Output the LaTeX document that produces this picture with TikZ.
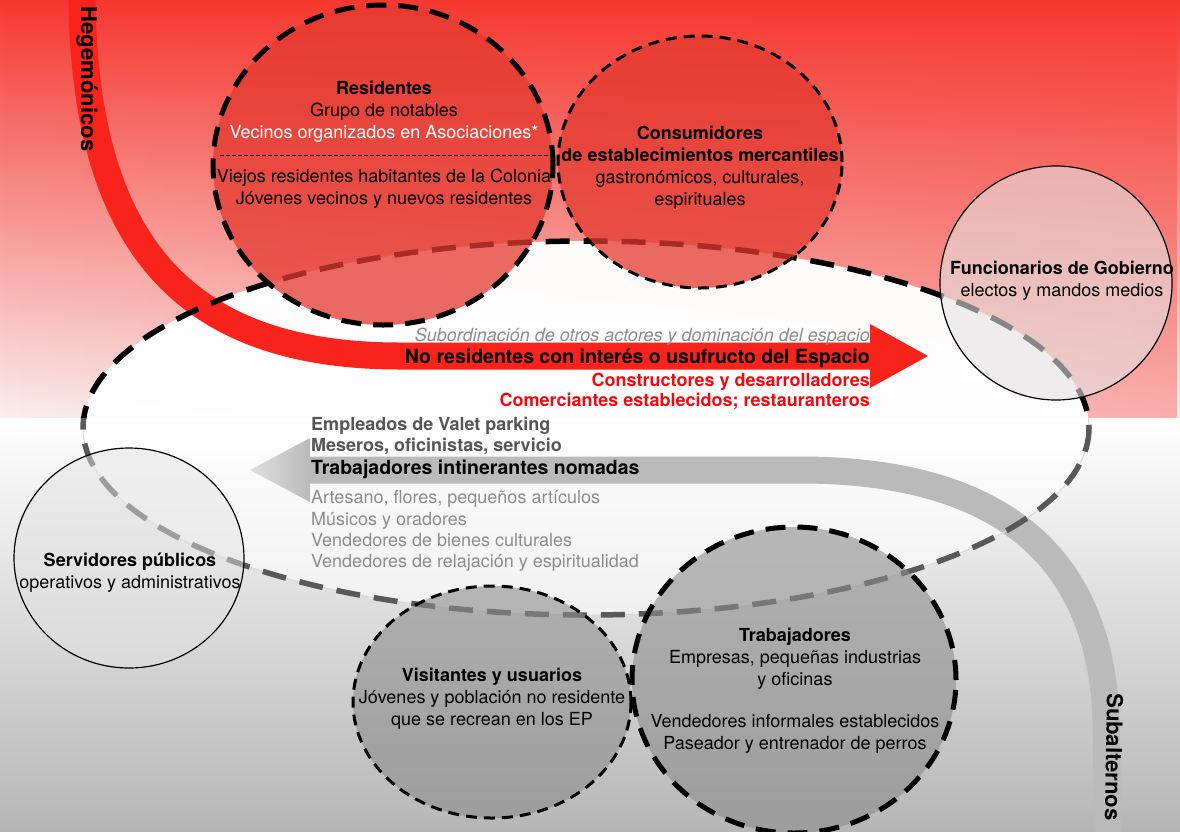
\documentclass[tikz,border=0pt]{standalone}
\usepackage{fontspec}
\setmainfont{TeX Gyre Heros}
\usetikzlibrary{shapes.geometric, fadings}

\definecolor{hegred}{RGB}{248,36,28}
\definecolor{bgred}{RGB}{246,56,48}
\definecolor{bgmid}{RGB}{242,140,136}
\definecolor{bgpale}{RGB}{250,238,238}
\definecolor{bggray}{RGB}{182,182,182}
\definecolor{subgray}{RGB}{186,186,186}
\definecolor{circred}{RGB}{228,58,48}
\definecolor{circgray}{RGB}{140,140,140}
\definecolor{circpale}{RGB}{228,226,226}
\definecolor{txtred}{RGB}{240,10,15}
\definecolor{txtgray}{RGB}{140,140,140}
\definecolor{txtdark}{RGB}{85,85,85}

\tikzset{
  bigdash/.style={line width=5pt, dash pattern=on 20pt off 12pt},
  smalldash/.style={line width=3pt, dash pattern=on 11pt off 7pt},
  redcirc/.style={ellipse, inner sep=0pt, fill=circred, fill opacity=.75, draw=black},
  graycirc/.style={ellipse, inner sep=0pt, fill=circgray, fill opacity=.6, draw=black},
  whitecirc/.style={ellipse, inner sep=0pt, fill=circpale, fill opacity=.55, draw=black, line width=1.2pt},
  txt/.style={font=\fontsize{18}{22}\selectfont, align=center, inner sep=0pt},
  line/.style={font=\fontsize{18}{22}\selectfont, inner sep=0pt},
  boldline/.style={font=\bfseries\fontsize{18}{22}\selectfont, inner sep=0pt},
  bigline/.style={font=\bfseries\fontsize{19.5}{23}\selectfont, inner sep=0pt},
  side/.style={font=\bfseries\fontsize{22}{25}\selectfont, inner sep=0pt}
}

\begin{document}
\begin{tikzpicture}[x=1pt, y=-1pt]

      \useasboundingbox (0,0) rectangle (1180,831);

      % Upper half: red, paler towards the bottom and the left
      \shade[top color=bgred, middle color=bgmid, bottom color=bgpale] (0,0) rectangle (1180,418);
      \fill[bgred, path fading=west, opacity=.35] (0,0) rectangle (1180,418);

      % Lower half: white to grey
      \shade[top color=white, bottom color=bggray] (0,418) rectangle (1180,831);

      % Inside of the public space
      \begin{scope}
        \clip (0,0) rectangle (1180,418);
        \fill[white, opacity=.97] (586,428) ellipse [x radius=503, y radius=187];
      \end{scope}
      \begin{scope}
        \clip (0,418) rectangle (1180,831);
        \fill[white, opacity=.6] (586,428) ellipse [x radius=503, y radius=187];
      \end{scope}

      % Hegemonic arrow
      \draw[hegred, line width=27pt] (81,-20) -- (82,0) .. controls (85,250) and (190,356) .. (400,356) -- (871,356);
      \fill[hegred] (870,324) -- (928,356) -- (870,388) -- cycle;

      % Subaltern arrow
      \draw[subgray, line width=27pt] (1108,850) -- (1106,720) .. controls (1100,540) and (980,470) .. (800,470) -- (309,470);
      \shade[left color=gray!25, right color=subgray] (310,438) -- (250,470) -- (310,502) -- cycle;

      % Outline of the public space
      \begin{scope}
        \clip (0,0) rectangle (1180,418);
        \draw[black, line width=5.5pt, dash pattern=on 24pt off 14pt] (586,428) ellipse [x radius=503, y radius=187];
      \end{scope}
      \begin{scope}
        \clip (0,418) rectangle (1180,831);
        \draw[gray!30, line width=1pt] (586,428) ellipse [x radius=503, y radius=187];
        \draw[black!65, line width=5.5pt, dash pattern=on 24pt off 14pt] (586,428) ellipse [x radius=503, y radius=187];
      \end{scope}

      % Actors
      \node[redcirc, bigdash, minimum width=340pt, minimum height=320pt] (res) at (383,165) {};
      \node[redcirc, smalldash, minimum width=284pt, minimum height=252pt] (cons) at (700,162) {};
      \node[whitecirc, fill opacity=.6, minimum width=232pt, minimum height=234pt] (func) at (1056,283) {};
      \node[whitecirc, fill opacity=.5, minimum width=230pt, minimum height=220pt] (serv) at (129,558) {};
      \node[graycirc, smalldash, minimum width=278pt, minimum height=232pt] (vis) at (492,702) {};
      \node[graycirc, bigdash, minimum width=324pt, minimum height=306pt] (trab) at (794,680) {};

      % Separator among residents
      \draw[line width=1pt, dash pattern=on 4pt off 2pt] (220,155) -- (549,155);

      \node[txt] (res-text) at (384,145) {\textbf{Residentes}\\Grupo de notables\\\textcolor{white}{Vecinos organizados en Asociaciones*}\\[22pt]Viejos residentes habitantes de la Colonia\\Jóvenes vecinos y nuevos residentes};
      \node[txt] (cons-text) at (700,168) {\textbf{Consumidores}\\\textbf{de establecimientos mercantiles}\\gastronómicos, culturales,\\espirituales};
      \node[txt] (func-text) at (1062,281) {\textbf{Funcionarios de Gobierno}\\electos y mandos medios};
      \node[txt] (serv-text) at (130,573) {\textbf{Servidores públicos}\\operativos y administrativos};
      \node[txt] (vis-text) at (492,699) {\textbf{Visitantes y usuarios}\\Jóvenes y población no residente\\que se recrean en los EP};
      \node[txt] (trab-text) at (795,691) {\textbf{Trabajadores}\\Empresas, pequeñas industrias\\y oficinas\\[20pt]Vendedores informales establecidos\\Paseador y entrenador de perros};

      % Arrow labels
      \node[side, rotate=-90] (hegem) at (87,79) {Hegemónicos};
      \node[side, rotate=-91] (subalt) at (1114,757) {Subalternos};

      \node[line, anchor=base east, txtgray] (subord) at (870,341.5) {\itshape Subordinación de otros actores y dominación del espacio};
      \node[bigline, anchor=base east] (noresid) at (870,363) {No residentes con interés o usufructo del Espacio};
      \node[boldline, anchor=base east, txtred] (constr) at (870,386.5) {Constructores y desarrolladores};
      \node[boldline, anchor=base east, txtred] (comerc) at (870,406.5) {Comerciantes establecidos; restauranteros};

      \node[boldline, anchor=base west, txtdark] (valet) at (311,430.5) {Empleados de Valet parking};
      \node[boldline, anchor=base west, txtdark] (meseros) at (311,451.5) {Meseros, oficinistas, servicio};
      \node[bigline, anchor=base west] (nomadas) at (311,474) {Trabajadores intinerantes nomadas};
      \node[line, anchor=base west, txtgray] (artesano) at (311,503.5) {Artesano, flores, pequeños artículos};
      \node[line, anchor=base west, txtgray] (musicos) at (311,525.5) {Músicos y oradores};
      \node[line, anchor=base west, txtgray] (bienes) at (311,546.5) {Vendedores de bienes culturales};
      \node[line, anchor=base west, txtgray] (relaj) at (311,567.5) {Vendedores de relajación y espiritualidad};

    \end{tikzpicture}
\end{document}
